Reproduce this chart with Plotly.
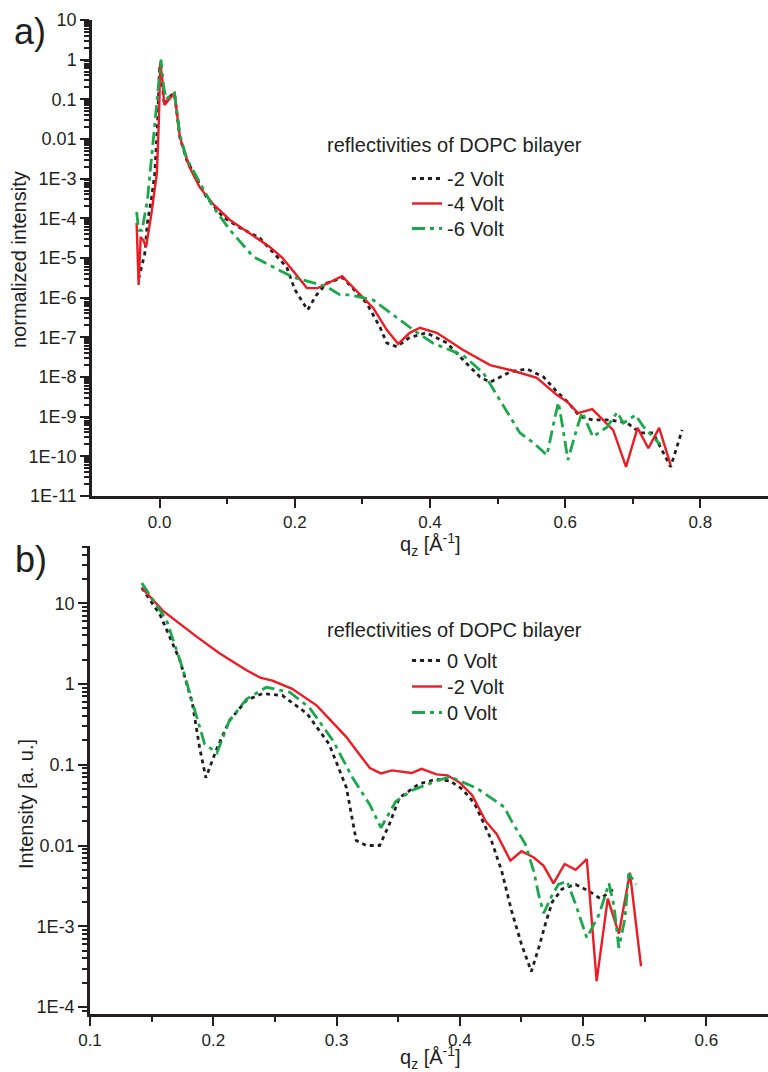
import plotly.graph_objects as go

# ---------------- panel a) : reflectivities at -2 / -4 / -6 Volt ----------------
qa_m2 = [-0.031, -0.027, -0.022, -0.018, -0.012, -0.007, -0.003, 0.000, 0.003, 0.007,
         0.013, 0.017, 0.022, 0.030, 0.040, 0.055, 0.069, 0.094, 0.119, 0.148,
         0.168, 0.188, 0.200, 0.219, 0.232, 0.247, 0.271, 0.306, 0.326, 0.336,
         0.351, 0.370, 0.395, 0.425, 0.454, 0.474, 0.489, 0.519, 0.543, 0.568,
         0.588, 0.604, 0.622, 0.641, 0.667, 0.692, 0.711, 0.730, 0.756, 0.773]
ra_m2 = [3.0e-6, 5.6e-6, 1.26e-5, 7.9e-5, 3.2e-4, 1.4e-3, 2.5e-2, 0.71, 0.35, 0.072,
         0.10, 0.126, 0.14, 0.011, 2.95e-3, 1.0e-3, 3.5e-4, 1.07e-4, 5.8e-5, 3.2e-5,
         1.4e-5, 5.9e-6, 1.6e-6, 4.9e-7, 1.17e-6, 2.3e-6, 3.2e-6, 7.4e-7, 1.8e-7, 7.2e-8,
         5.8e-8, 1.0e-7, 1.3e-7, 7.2e-8, 2.2e-8, 1.0e-8, 7.4e-9, 1.35e-8, 1.6e-8, 1.0e-8,
         4.2e-9, 2.3e-9, 1.0e-9, 8.3e-10, 8.3e-10, 6.9e-10, 3.9e-10, 3.9e-10, 5.4e-11, 4.6e-10]

qa_m4 = [-0.034, -0.031, -0.028, -0.024, -0.020, -0.012, -0.004, -0.001, 0.001, 0.004,
         0.007, 0.014, 0.022, 0.030, 0.044, 0.059, 0.080, 0.104, 0.133, 0.163,
         0.182, 0.218, 0.234, 0.257, 0.270, 0.316, 0.336, 0.353, 0.370, 0.385,
         0.410, 0.449, 0.489, 0.519, 0.558, 0.588, 0.604, 0.619, 0.640, 0.671,
         0.690, 0.707, 0.723, 0.739, 0.756]
ra_m4 = [7.6e-5, 2.1e-6, 3.4e-5, 2.8e-5, 1.9e-5, 1.35e-4, 1.4e-3, 3.2e-2, 0.85, 0.32,
         0.072, 0.10, 0.145, 0.011, 2.0e-3, 6.2e-4, 2.2e-4, 9.1e-5, 4.2e-5, 1.9e-5,
         1.0e-5, 1.74e-6, 1.74e-6, 2.8e-6, 3.5e-6, 5.5e-7, 1.55e-7, 6.8e-8, 1.3e-7, 1.74e-7,
         1.3e-7, 4.8e-8, 2.0e-8, 1.5e-8, 9.5e-9, 3.5e-9, 2.3e-9, 1.23e-9, 1.55e-9, 4.6e-10,
         5.4e-11, 5.2e-10, 1.6e-10, 5.2e-10, 6.0e-11]

qa_m6 = [-0.034, -0.031, -0.026, -0.018, -0.007, 0.002, 0.006, 0.010, 0.016, 0.022,
         0.030, 0.040, 0.055, 0.079, 0.104, 0.138, 0.168, 0.197, 0.212, 0.232,
         0.247, 0.267, 0.281, 0.316, 0.351, 0.375, 0.404, 0.430, 0.449, 0.479,
         0.499, 0.519, 0.533, 0.553, 0.573, 0.585, 0.590, 0.597, 0.604, 0.618,
         0.625, 0.641, 0.662, 0.677, 0.686, 0.704, 0.716, 0.741]
ra_m6 = [1.45e-4, 5.0e-5, 5.0e-5, 2.9e-4, 2.5e-2, 1.0, 0.2, 0.10, 0.13, 0.145,
         0.0126, 3.2e-3, 1.1e-3, 1.95e-4, 5.1e-5, 1.1e-5, 5.9e-6, 3.3e-6, 2.8e-6, 2.3e-6,
         1.9e-6, 1.17e-6, 1.17e-6, 8.7e-7, 3.2e-7, 1.55e-7, 7.2e-8, 4.8e-8, 3.5e-8, 1.26e-8,
         3.5e-9, 9.3e-10, 3.9e-10, 2.2e-10, 1.07e-10, 1.0e-9, 2.3e-9, 4.6e-10, 8.1e-11, 5.5e-10,
         1.3e-9, 3.1e-10, 5.5e-10, 1.3e-9, 6.9e-10, 1.1e-9, 5.5e-10, 1.95e-10]

# ---------------- panel b) : reflectivities at 0 / -2 / 0 Volt ----------------
qb_0a = [0.142, 0.157, 0.173, 0.183, 0.189, 0.194, 0.203, 0.213, 0.227, 0.240,
         0.256, 0.276, 0.294, 0.308, 0.316, 0.324, 0.335, 0.343, 0.351, 0.367,
         0.381, 0.392, 0.402, 0.412, 0.425, 0.434, 0.442, 0.450, 0.458, 0.464,
         0.470, 0.475, 0.483, 0.494, 0.505, 0.514, 0.525]
rb_0a = [15.5, 7.1, 1.95, 0.58, 0.16, 0.069, 0.16, 0.35, 0.63, 0.76,
         0.72, 0.43, 0.18, 0.052, 0.0115, 0.010, 0.010, 0.0186, 0.039, 0.058,
         0.066, 0.063, 0.050, 0.033, 0.0123, 0.0048, 1.55e-3, 6.0e-4, 2.75e-4, 5.4e-4,
         1.15e-3, 2.0e-3, 2.9e-3, 3.3e-3, 2.7e-3, 2.2e-3, 2.9e-3]

qb_m2 = [0.142, 0.159, 0.187, 0.205, 0.227, 0.238, 0.248, 0.264, 0.284, 0.308,
         0.318, 0.327, 0.336, 0.345, 0.361, 0.369, 0.381, 0.390, 0.400, 0.410,
         0.421, 0.430, 0.441, 0.450, 0.460, 0.468, 0.476, 0.485, 0.494, 0.503,
         0.511, 0.520, 0.529, 0.538, 0.547]
rb_m2 = [15.5, 8.1, 3.8, 2.4, 1.48, 1.2, 1.1, 0.87, 0.54, 0.22,
         0.138, 0.091, 0.078, 0.085, 0.079, 0.089, 0.076, 0.074, 0.060, 0.042,
         0.020, 0.0138, 6.5e-3, 8.5e-3, 7.1e-3, 5.6e-3, 3.4e-3, 5.9e-3, 5.0e-3, 6.8e-3,
         2.1e-4, 2.2e-3, 8.1e-4, 4.6e-3, 3.2e-4]

qb_0b = [0.142, 0.162, 0.175, 0.185, 0.193, 0.203, 0.213, 0.227, 0.243, 0.262,
         0.278, 0.297, 0.313, 0.327, 0.336, 0.348, 0.361, 0.381, 0.392, 0.414,
         0.436, 0.442, 0.448, 0.453, 0.460, 0.464, 0.468, 0.475, 0.480, 0.487,
         0.494, 0.503, 0.513, 0.521, 0.525, 0.529, 0.534, 0.537, 0.543]
rb_0b = [17.8, 6.2, 1.58, 0.47, 0.18, 0.14, 0.35, 0.65, 0.91, 0.79,
         0.51, 0.20, 0.069, 0.032, 0.0166, 0.035, 0.048, 0.063, 0.071, 0.051,
         0.030, 0.020, 0.0138, 0.0105, 4.8e-3, 2.45e-3, 1.45e-3, 2.45e-3, 3.3e-3, 3.6e-3,
         1.86e-3, 7.2e-4, 1.4e-3, 3.4e-3, 1.8e-3, 5.4e-4, 1.26e-3, 4.5e-3, 3.3e-3]

# ---------------- tick labels ----------------
ya_ticks = [10, 1, 0.1, 0.01, 1e-3, 1e-4, 1e-5, 1e-6, 1e-7, 1e-8, 1e-9, 1e-10, 1e-11]
ya_text = ["10", "1", "0.1", "0.01", "1E-3", "1E-4", "1E-5", "1E-6", "1E-7",
           "1E-8", "1E-9", "1E-10", "1E-11"]
yb_ticks = [10, 1, 0.1, 0.01, 1e-3, 1e-4]
yb_text = ["10", "1", "0.1", "0.01", "1E-3", "1E-4"]
xa_ticks = [0.0, 0.2, 0.4, 0.6, 0.8]
xa_text = ["0.0", "0.2", "0.4", "0.6", "0.8"]
xa_minor = [0.1, 0.3, 0.5, 0.7]
xb_ticks = [0.1, 0.2, 0.3, 0.4, 0.5, 0.6]
xb_text = ["0.1", "0.2", "0.3", "0.4", "0.5", "0.6"]
xb_minor = [0.15, 0.25, 0.35, 0.45, 0.55]

DARK = "#231f20"
RED = "#ed1c24"
GREEN = "#1ba84a"
FONT = "Liberation Sans, Arial, sans-serif"

BLACK_DASH = "4px,4px"
GREEN_DASH = "13px,5px,4px,5px"

XA_RANGE = [-0.1, 0.9]
YA_RANGE = [-11, 1]
XB_RANGE = [0.1, 0.65]
YB_RANGE = [-4.086, 1.708]


def log_minor(lo_exp, hi_exp):
    return [m * 10.0 ** e for e in range(lo_exp, hi_exp) for m in range(2, 10)]


W, H = 768, 1072
ML, MR, MT, MB = 90, 0, 20, 58
PW, PH = W - ML - MR, H - MT - MB


def px(x):
    return (x - ML) / PW


def py(y):
    return (H - MB - y) / PH


fig = go.Figure()

# (name, q, R, colour, width, dash, x-axis, y-axis, legend id, legend centre y in px)
series = [
    ("-2 Volt", qa_m2, ra_m2, DARK, 2.8, BLACK_DASH, "x", "y", "legend", 178),
    ("-4 Volt", qa_m4, ra_m4, RED, 2.4, "solid", "x", "y", "legend2", 203),
    ("-6 Volt", qa_m6, ra_m6, GREEN, 2.8, GREEN_DASH, "x", "y", "legend3", 228),
    ("0 Volt", qb_0a, rb_0a, DARK, 2.8, BLACK_DASH, "x2", "y2", "legend4", 660),
    ("-2 Volt", qb_m2, rb_m2, RED, 2.4, "solid", "x2", "y2", "legend5", 686),
    ("0 Volt", qb_0b, rb_0b, GREEN, 2.8, GREEN_DASH, "x2", "y2", "legend6", 712),
]

legend_font = dict(family=FONT, size=20, color=DARK)
legends = {}
for name, q, r, col, lw, dash, xa, ya, leg, cy in series:
    fig.add_trace(go.Scatter(x=q, y=r, mode="lines", name=name,
                             line=dict(color=col, width=lw, dash=dash),
                             xaxis=xa, yaxis=ya, legend=leg))
    legends[leg] = dict(x=px(407), xanchor="left", y=py(cy - 19), yanchor="top",
                        bgcolor="rgba(0,0,0,0)", borderwidth=0,
                        font=legend_font)

axis_style = dict(showline=True, linecolor=DARK, linewidth=2.5, ticks="outside",
                  tickcolor=DARK, tickwidth=2, ticklen=9, showgrid=False,
                  zeroline=False, mirror=False, fixedrange=True, tickmode="array")
xtick_font = dict(family=FONT, size=17, color=DARK)
ytick_font = dict(family=FONT, size=18, color=DARK)
# small unlabelled ticks between the labelled ones
minor_style = dict(ticks="outside", tickcolor=DARK, tickwidth=1.5, ticklen=5,
                   showgrid=False, tickmode="array")

fig.update_layout(
    width=W, height=H,
    margin=dict(l=ML, r=MR, t=MT, b=MB),
    paper_bgcolor="white", plot_bgcolor="white",
    font=dict(family=FONT, color=DARK),
    xaxis=dict(axis_style, domain=[px(92), 1], anchor="y", range=XA_RANGE,
               tickvals=xa_ticks, ticktext=xa_text, tickfont=xtick_font,
               minor=dict(minor_style, tickvals=xa_minor)),
    yaxis=dict(axis_style, domain=[py(496), 1], anchor="x", type="log", range=YA_RANGE,
               tickvals=ya_ticks, ticktext=ya_text, tickfont=ytick_font,
               minor=dict(minor_style, tickvals=log_minor(-11, 1))),
    xaxis2=dict(axis_style, domain=[0, 1], anchor="y2", range=XB_RANGE,
                tickvals=xb_ticks, ticktext=xb_text, tickfont=xtick_font,
                minor=dict(minor_style, tickvals=xb_minor)),
    yaxis2=dict(axis_style, domain=[0, py(546)], anchor="x2", type="log", range=YB_RANGE,
                tickvals=yb_ticks, ticktext=yb_text, tickfont=ytick_font,
                minor=dict(minor_style, tickvals=log_minor(-5, 2))),
    showlegend=True,
    **legends,
)

title_font = dict(family=FONT, size=20, color=DARK)
annotations = [
    dict(text="a)", x=px(30), y=py(32), font=dict(family=FONT, size=36, color=DARK)),
    dict(text="b)", x=px(31), y=py(559), font=dict(family=FONT, size=36, color=DARK)),
    dict(text="reflectivities of DOPC bilayer", x=px(454), y=py(145), font=title_font),
    dict(text="reflectivities of DOPC bilayer", x=px(454), y=py(630), font=title_font),
    # axis titles
    dict(text="q<sub>z</sub> [Å<sup>-1</sup>]", x=px(430), y=py(544), font=title_font),
    dict(text="q<sub>z</sub> [Å<sup>-1</sup>]", x=px(430), y=py(1057), font=title_font),
    dict(text="normalized intensity", x=px(19), y=py(260), textangle=-90, font=title_font),
    dict(text="Intensity [a. u.]", x=px(26), y=py(804), textangle=-90, font=title_font),
]
for a in annotations:
    a.update(xref="paper", yref="paper", showarrow=False, xanchor="center", yanchor="middle")
fig.update_layout(annotations=annotations)

fig.write_html("out.html")
